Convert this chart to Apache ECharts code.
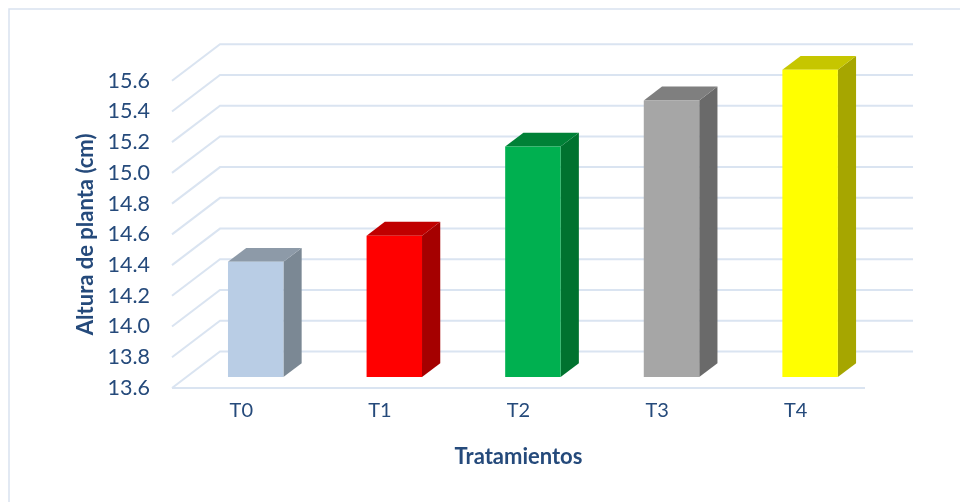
<!DOCTYPE html>
<html>
<head>
<meta charset="utf-8">
<script src="https://cdn.jsdelivr.net/npm/echarts@6/dist/echarts.min.js"></script>
<style>html,body{margin:0;padding:0;background:#fff;}#c{width:960px;height:502px;}</style>
</head>
<body>
<div id="c"></div>
<script>
var categories = ['T0', 'T1', 'T2', 'T3', 'T4'];
var alturaValues = [14.35, 14.52, 15.10, 15.40, 15.60];
var yTicks = [13.6, 13.8, 14.0, 14.2, 14.4, 14.6, 14.8, 15.0, 15.2, 15.4, 15.6];
var yAxisTitle = 'Altura de planta (cm)';
var xAxisTitle = 'Tratamientos';

// styles
var frontColors = ['#B9CDE5', '#FF0000', '#00B050', '#A6A6A6', '#FFFF00'];
var sideColors  = ['#7B8894', '#A50000', '#00722F', '#6A6A6A', '#A6A600'];
var topColors   = ['#8D9AA8', '#C00000', '#008137', '#7F7F7F', '#C6C600'];
var DEPTH_X = 48, DEPTH_Y = -36.5;     // full floor depth in pixels
var BAR_FRONT = 0.30, BAR_DEPTH = 0.38; // fraction of depth
var BAR_WIDTH = 0.4;                    // fraction of band
var gridColor = '#DAE4F1';
var textColor = '#254A7B';
var FONT = 'Lato';

var chart = echarts.init(document.getElementById('c'), null, {renderer: 'canvas'});

var option = {
  backgroundColor: '#fff',
  animation: false,
  graphic: [{
    type: 'rect', z: -10,
    shape: {x: 9, y: 9, width: 1000, height: 600},
    style: {fill: '#fff', stroke: '#D9E2EF', lineWidth: 1.5}
  }],
  grid: {left: 172, right: 95, top: 80.7, bottom: 114, containLabel: false},
  xAxis: {
    type: 'category',
    data: categories,
    axisLine: {show: false},
    axisTick: {show: false},
    splitLine: {show: false},
    axisLabel: {color: textColor, fontFamily: FONT, fontSize: 20, margin: 13},
    name: xAxisTitle,
    nameLocation: 'middle',
    nameGap: 58,
    nameTextStyle: {color: textColor, fontFamily: FONT, fontSize: 22, fontWeight: 'bold'}
  },
  yAxis: {
    type: 'value',
    min: 13.6, max: 15.6, interval: 0.2,
    axisLine: {show: false},
    axisTick: {show: false},
    splitLine: {show: false},
    axisLabel: {color: textColor, fontFamily: FONT, fontSize: 21.5, margin: 22,
      formatter: function (v) { return v.toFixed(1); }},
    name: yAxisTitle,
    nameLocation: 'middle',
    nameGap: 74,
    nameRotate: 90,
    nameTextStyle: {color: textColor, fontFamily: FONT, fontSize: 22, fontWeight: 'bold'}
  },
  series: [
    {
      type: 'custom',
      z: 1,
      silent: true,
      data: yTicks.map(function (t) { return [0, t]; }),
      renderItem: function (params, api) {
        var cs = params.coordSys;
        var y = api.coord([0, api.value(1)])[1];
        var left = cs.x, right = cs.x + cs.width;
        var st = {stroke: gridColor, lineWidth: 2, fill: null};
        var children = [
          {type: 'polyline', shape: {points: [[left, y], [left + DEPTH_X, y + DEPTH_Y], [right + DEPTH_X, y + DEPTH_Y]]}, style: st}
        ];
        if (params.dataIndex === 0) {
          children.push({type: 'line', shape: {x1: left, y1: y, x2: right, y2: y}, style: st});
        }
        return {type: 'group', children: children};
      }
    },
    {
      type: 'custom',
      z: 5,
      data: alturaValues.map(function (v, i) { return [i, v]; }),
      renderItem: function (params, api) {
        var i = api.value(0);
        var top = api.coord([i, api.value(1)]);
        var base = api.coord([i, 13.6]);
        var w = api.size([1, 0])[0] * BAR_WIDTH;
        var ox = DEPTH_X * BAR_FRONT, oy = DEPTH_Y * BAR_FRONT;
        var dx = DEPTH_X * BAR_DEPTH, dy = DEPTH_Y * BAR_DEPTH;
        var x0 = top[0] - w / 2 + ox, x1 = top[0] + w / 2 + ox;
        var yt = top[1] + oy, yb = base[1] + oy;
        return {
          type: 'group',
          children: [
            {type: 'polygon', shape: {points: [[x1, yt], [x1 + dx, yt + dy], [x1 + dx, yb + dy], [x1, yb]]},
              style: {fill: sideColors[i]}},
            {type: 'polygon', shape: {points: [[x0, yt], [x0 + dx, yt + dy], [x1 + dx, yt + dy], [x1, yt]]},
              style: {fill: topColors[i]}},
            {type: 'rect', shape: {x: x0, y: yt, width: w, height: yb - yt},
              style: {fill: frontColors[i]}}
          ]
        };
      }
    }
  ]
};
chart.setOption(option);
</script>
</body>
</html>
